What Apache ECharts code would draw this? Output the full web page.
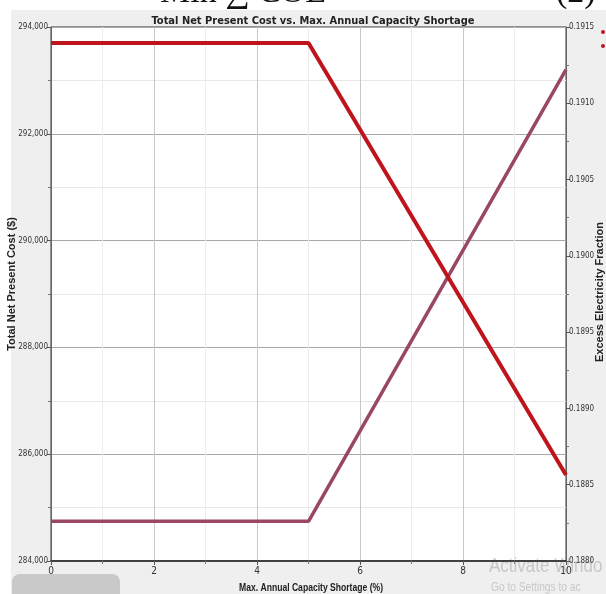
<!DOCTYPE html>
<html>
<head>
<meta charset="utf-8">
<script type="text/javascript" src="https://cdn.jsdelivr.net/npm/echarts@6/dist/echarts.min.js"></script>
<style type="text/css">
    * { margin: 0; padding: 0; }
    body { background: #ffffff; }
    #container { width: 606px; height: 594px; }
</style>
</head>
<body>
<div id="container"></div>
<script type="text/javascript">
// data
var shortage = [0, 5, 10];                        // Max. Annual Capacity Shortage (%)
var netPresentCost = [293700, 293700, 285610];    // Total Net Present Cost ($)
var excessFraction = [0.18826, 0.18826, 0.19122]; // Excess Electricity Fraction
var xTicks = [0, 2, 4, 6, 8, 10];
var costTicks = [284000, 286000, 288000, 290000, 292000, 294000];
var fracTicks = [0.1880, 0.1885, 0.1890, 0.1895, 0.1900, 0.1905, 0.1910, 0.1915];

var narrow = "'Liberation Sans Narrow', 'DejaVu Sans Condensed', sans-serif";
var chart = echarts.init(document.getElementById('container'));

function pairs(xs, ys) {
    var out = [];
    for (var i = 0; i < xs.length; i++) out.push([xs[i], ys[i]]);
    return out;
}

// centred text helper for the graphic component
function label(txt, x, y, font, rot, sx) {
    return {
        type: 'text', x: x, y: y, rotation: rot || 0, scaleX: sx || 1,
        style: {
            text: txt, font: font, fill: '#222',
            align: 'center', verticalAlign: 'middle',
            textAlign: 'center', textVerticalAlign: 'middle'
        }
    };
}

var option = {
    animation: false,
    backgroundColor: '#ffffff',
    title: {
        text: 'Total Net Present Cost vs. Max. Annual Capacity Shortage',
        left: 308, top: 11, textAlign: 'center',
        textStyle: { fontFamily: narrow, fontSize: 11, fontWeight: 'bold', color: '#222' }
    },
    graphic: [
        // gray panel of the screenshot
        { type: 'rect', z: -10, shape: { x: 11, y: 10, width: 600, height: 600 }, style: { fill: '#efefef' } },
        // leftovers of the photographed page
        { type: 'text', left: 160, top: -24, style: { text: 'Min ∑ COE', font: '34px "Liberation Serif", serif', fill: '#111' } },
        { type: 'text', left: 556, top: -24, style: { text: '(2)', font: '34px "Liberation Serif", serif', fill: '#111' } },
        { type: 'rect', z: -5, shape: { x: 12, y: 574, width: 108, height: 30, r: 8 }, style: { fill: '#c9c9c9' } },
        { type: 'text', x: 489, y: 556, scaleX: 0.85, style: { text: 'Activate Windo', font: '20px "Liberation Sans", sans-serif', fill: 'rgba(150,150,150,0.45)' } },
        { type: 'text', x: 491, y: 582, scaleX: 0.85, style: { text: 'Go to Settings to ac', font: '12px "Liberation Sans", sans-serif', fill: 'rgba(150,150,150,0.45)' } },
        { type: 'circle', shape: { cx: 603, cy: 32, r: 2 }, style: { fill: '#c0141c' } },
        { type: 'circle', shape: { cx: 603, cy: 46, r: 2 }, style: { fill: '#c0141c' } },
        // axis names
        label('Max. Annual Capacity Shortage (%)', 311, 588, 'bold 11px "Liberation Sans", sans-serif', 0, 0.78),
        label('Total Net Present Cost ($)', 12, 284, 'bold 11px "Liberation Sans", sans-serif', Math.PI / 2),
        label('Excess Electricity Fraction', 600, 292, 'bold 11px "Liberation Sans", sans-serif', Math.PI / 2)
    ],
    grid: {
        left: 51, right: 40, top: 27, bottom: 33,
        outerBoundsMode: 'none',
        show: true, backgroundColor: '#ffffff', borderColor: '#333', borderWidth: 1
    },
    xAxis: {
        type: 'value', min: 0, max: 10, interval: 2,
        axisLine: { lineStyle: { color: '#222', width: 1.5 } },
        axisTick: { show: true, length: 4, lineStyle: { color: '#555' } },
        minorTick: { show: true, splitNumber: 2, length: 3, lineStyle: { color: '#777' } },
        axisLabel: { fontFamily: narrow, fontSize: 10, color: '#333', margin: 5,
            customValues: xTicks },
        splitLine: { show: true, lineStyle: { color: '#c8c8c8' } },
        minorSplitLine: { show: true, lineStyle: { color: '#ececec' } }
    },
    yAxis: [
        {
            type: 'value', min: 284000, max: 294000, interval: 2000,
            axisLine: { show: true, lineStyle: { color: '#666' } },
            axisTick: { show: true, length: 4, lineStyle: { color: '#555' } },
            minorTick: { show: true, splitNumber: 2, length: 3, lineStyle: { color: '#777' } },
            axisLabel: { fontFamily: narrow, fontSize: 8, color: '#333', margin: 3,
                customValues: costTicks },
            splitLine: { show: true, lineStyle: { color: '#a8a8a8' } },
            minorSplitLine: { show: true, lineStyle: { color: '#e8e8e8' } }
        },
        {
            type: 'value', min: 0.1880, max: 0.1915, interval: 0.0005,
            axisLine: { show: true, lineStyle: { color: '#666' } },
            axisTick: { show: true, length: 4, lineStyle: { color: '#555' } },
            minorTick: { show: true, splitNumber: 2, length: 3, lineStyle: { color: '#777' } },
            axisLabel: { fontFamily: narrow, fontSize: 8, color: '#333', margin: 3,
                customValues: fracTicks,
                formatter: function (v) { return v.toFixed(4); } },
            splitLine: { show: false }
        }
    ],
    series: [
        {
            type: 'line', yAxisIndex: 0, symbol: 'none',
            data: pairs(shortage, netPresentCost),
            lineStyle: { color: '#c0141c', width: 4 }, z: 3
        },
        {
            type: 'line', yAxisIndex: 1, symbol: 'none',
            data: pairs(shortage, excessFraction),
            lineStyle: { color: '#9a4766', width: 3.5 }, z: 2
        }
    ]
};
chart.setOption(option);
</script>
</body>
</html>
